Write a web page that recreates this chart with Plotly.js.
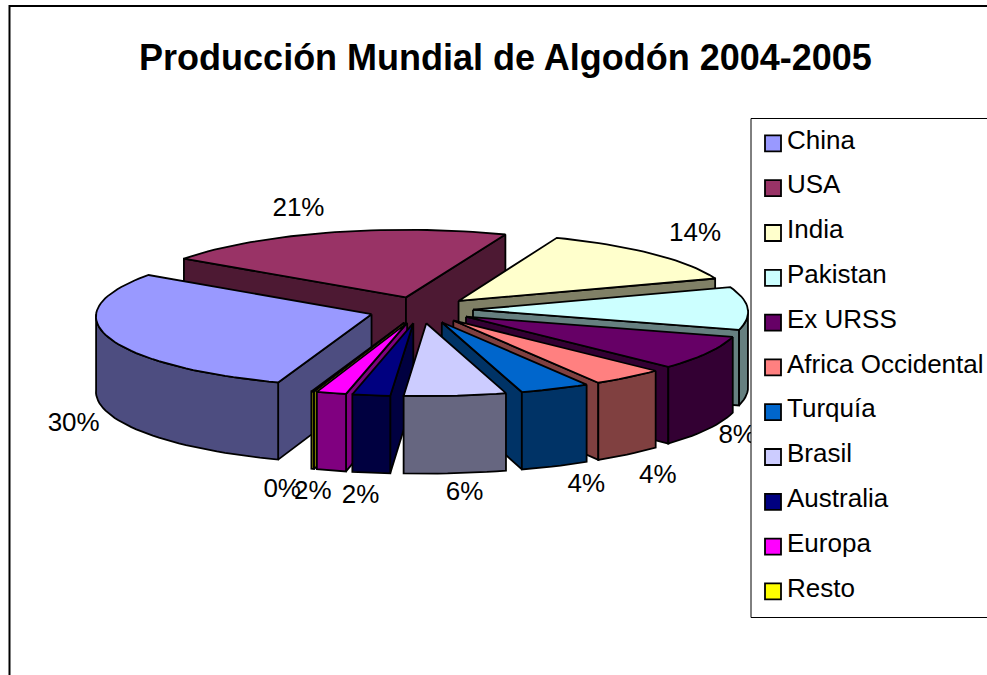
<!DOCTYPE html>
<html><head><meta charset="utf-8">
<script src="https://cdn.plot.ly/plotly-3.0.1.min.js"></script>
<style>html,body{margin:0;padding:0;background:#fff}#chart{width:987px;height:675px}</style>
</head><body><div id="chart"></div>
<script>
var categories=["China","USA","India","Pakistan","Ex URSS","Africa Occidental","Turquía","Brasil","Australia","Europa","Resto"];
var shares=[29.3,21.5,13.7,9.85,7.7,4.2,4,5.8,2.15,1.7,0.15];
var percentLabels=["30%","21%","14%","10%","8%","4%","4%","6%","2%","2%","0%"];
var topColors=["#9999FF","#993366","#FFFFCC","#CCFFFF","#660066","#FF8080","#0066CC","#CCCCFF","#000080","#FF00FF","#FFFF00"];
var sideColors=["#4D4D80","#4D1933","#808066","#668080","#330033","#804040","#003366","#666680","#000040","#800080","#808000"];
var titleText="Producción Mundial de Algodón 2004-2005";

// pie projection
var CX=421,CY=310,R=275,K=0.255,H=75,EXPLODE=52,PERSP=0.0001,START=199;
var LABEL_R=370,LABEL_K=0.29;
var labelNudgeX=[4,-15,6,0,-3,8,18,6,-6,-10,-20];
var labelNudgeY=[6,2,-2,0,-3,7,2,2,5,4,4];

function rad(d){return d*Math.PI/180;}
function pt(gx,gy,down){var s=1/(1-gy*PERSP);return [CX+gx*s,CY+K*gy*s+(down?H*s:0)];}
function pack(pts){return {x:pts.map(function(p){return p[0];}).concat(pts[0][0]),y:pts.map(function(p){return p[1];}).concat(pts[0][1])};}

var total=shares.reduce(function(a,b){return a+b;},0);
var slices=[],cur=START;
shares.forEach(function(v,i){var sweep=v/total*360;slices.push({i:i,a:cur,b:cur+sweep,m:cur+sweep/2});cur+=sweep;});

function poly(pts,fill){var d=pack(pts);return {type:"scatter",mode:"lines",x:d.x,y:d.y,fill:"toself",fillcolor:fill,
  line:{color:"#000",width:1.8},hoverinfo:"skip",showlegend:false};}

var traces=[];
categories.forEach(function(c,i){traces.push({type:"scatter",mode:"markers",x:[-500],y:[-500],name:c,legendgroup:"g"+i,
  marker:{symbol:"square",size:16,color:topColors[i],line:{color:"#000",width:1.8}},hoverinfo:"skip"});});

var order=slices.slice().sort(function(p,q){return Math.cos(rad(q.m))-Math.cos(rad(p.m));});
order.forEach(function(s){
  var ox=EXPLODE*Math.sin(rad(s.m)),oy=-EXPLODE*Math.cos(rad(s.m));
  function g(th,r){return [ox+r*Math.sin(rad(th)),oy-r*Math.cos(rad(th))];}
  function quad(th){var t=g(th,0),e=g(th,R);return [pt(t[0],t[1],false),pt(e[0],e[1],false),pt(e[0],e[1],true),pt(t[0],t[1],true)];}
  var side=sideColors[s.i];
  if(Math.sin(rad(s.a))<0) traces.push(poly(quad(s.a),side));
  if(Math.sin(rad(s.b))>0) traces.push(poly(quad(s.b),side));
  var lo=Math.max(s.a,90),hi=Math.min(s.b,270),th;
  if(s.b>360+90){lo=Math.max(s.a,450);hi=Math.min(s.b,630);}
  if(hi>lo){
    var up=[],dn=[];
    for(th=lo;th<hi;th+=2){var p=g(th,R);up.push(pt(p[0],p[1],false));dn.unshift(pt(p[0],p[1],true));}
    var q=g(hi,R);up.push(pt(q[0],q[1],false));dn.unshift(pt(q[0],q[1],true));
    traces.push(poly(up.concat(dn),side));
  }
  var t=g(0,0),top=[pt(t[0],t[1],false)];
  for(th=s.a;th<s.b;th+=2){var e=g(th,R);top.push(pt(e[0],e[1],false));}
  var f=g(s.b,R);top.push(pt(f[0],f[1],false));
  traces.push(poly(top,topColors[s.i]));
});
traces.push({type:"scatter",mode:"text",hoverinfo:"skip",showlegend:false,cliponaxis:false,
  x:slices.map(function(s){return CX+LABEL_R*Math.sin(rad(s.m))+labelNudgeX[s.i];}),
  y:slices.map(function(s){var c=Math.cos(rad(s.m));return CY-LABEL_K*LABEL_R*c+(c<0?H:0)+labelNudgeY[s.i];}),
  text:percentLabels,
  textposition:"middle center",textfont:{family:"Liberation Sans, Arial, sans-serif",size:26,color:"#000"}});

var layout={width:987,height:675,margin:{l:0,r:0,t:0,b:0,autoexpand:false},paper_bgcolor:"#fff",plot_bgcolor:"#fff",
  font:{family:"Liberation Sans, Arial, sans-serif",color:"#000"},
  title:{text:"<b>"+titleText+"</b>",x:505.5/987,xanchor:"center",xref:"paper",y:1-57/675,yref:"container",yanchor:"middle",
    font:{family:"Liberation Sans, Arial, sans-serif",size:36,color:"#000"}},
  xaxis:{visible:false,range:[0,987],fixedrange:true},
  yaxis:{visible:false,range:[675,0],fixedrange:true},
  showlegend:true,
  legend:{x:747/987,xanchor:"left",y:1-115/675,yanchor:"top",bgcolor:"rgba(0,0,0,0)",borderwidth:0,tracegroupgap:8,
    font:{family:"Liberation Sans, Arial, sans-serif",size:26,color:"#000"},itemclick:false,itemdoubleclick:false},
  shapes:[
    {type:"rect",xref:"x",yref:"y",x0:9.5,y0:6,x1:1000,y1:700,line:{color:"#000",width:2},fillcolor:"rgba(0,0,0,0)",layer:"below"},
    {type:"rect",xref:"x",yref:"y",x0:751,y0:118.5,x1:1000,y1:617.5,line:{color:"#000",width:1},fillcolor:"#fff",layer:"above"}
  ]};
Plotly.newPlot("chart",traces,layout,{displayModeBar:false,staticPlot:true}).then(function(gd){
  gd.querySelectorAll(".legendsymbols").forEach(function(n){n.setAttribute("transform","translate(6,5)");});
});
</script></body></html>
